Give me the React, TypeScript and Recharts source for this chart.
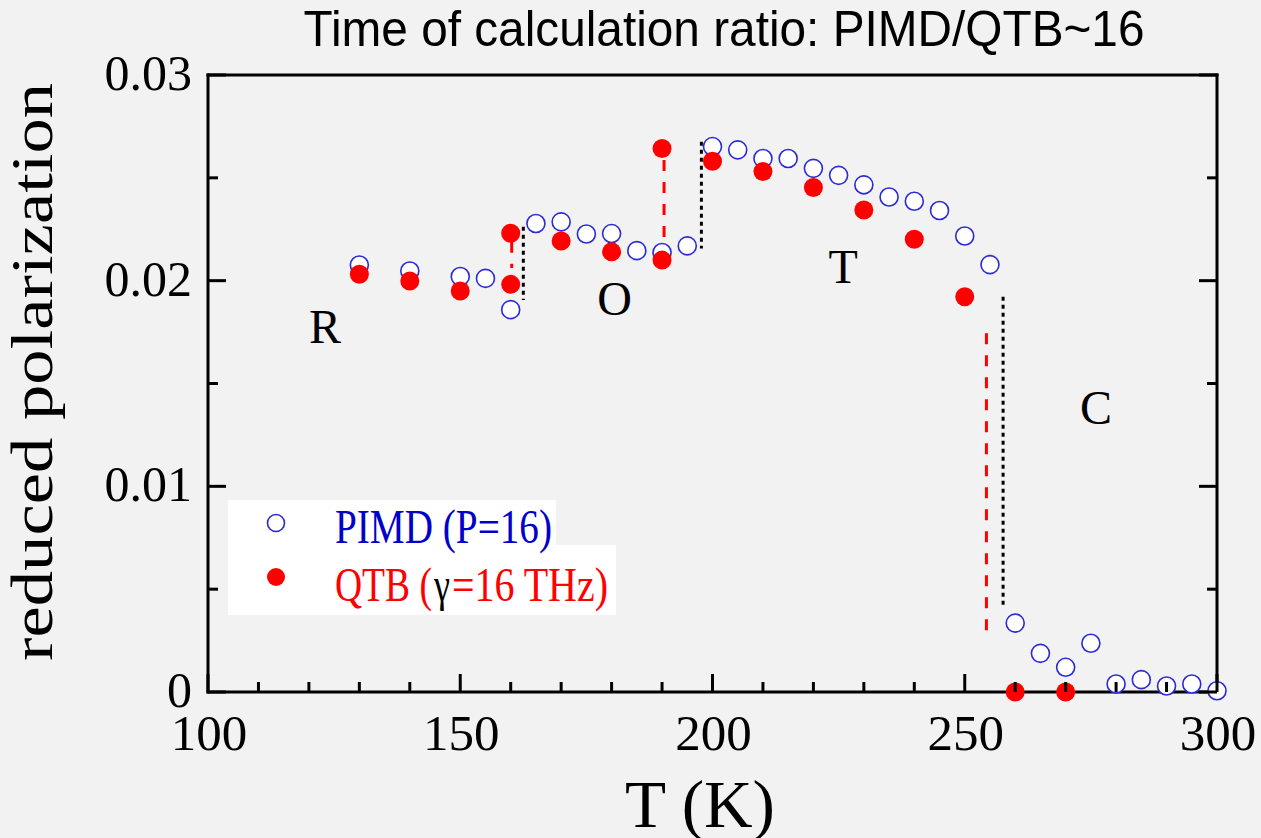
import React from "react";
import {
  ScatterChart,
  Scatter,
  XAxis,
  YAxis,
  ReferenceLine,
  ReferenceDot,
  Legend,
} from "recharts";

const SERIF = '"Liberation Serif", "Times New Roman", Times, serif';
const SANS = '"Liberation Sans", Arial, Helvetica, sans-serif';

const W = 1261;
const H = 838;
// axes take 1px each, so the plot area is 208..1217 x 75..692
const MARGIN = { top: 74, right: 43, bottom: 145, left: 207 };
const MAJOR = 18;
const MINOR = 10;

// PIMD (P=16), open circles
const pimdT = [
  130, 140, 150, 155, 160, 165, 170, 175, 180, 185, 190, 195, 200, 205, 210, 215, 220,
  225, 230, 235, 240, 245, 250, 255, 260, 265, 270, 275, 280, 285, 290, 295, 300,
];
const pimdP = [
  0.02076, 0.02047, 0.0202, 0.02011, 0.01859, 0.02278, 0.02286, 0.02227, 0.02229,
  0.02146, 0.02137, 0.02169, 0.02652, 0.02636, 0.02594, 0.02594, 0.02546, 0.02512,
  0.02466, 0.02407, 0.02386, 0.02341, 0.02217, 0.02078, 0.00335, 0.00188, 0.0012,
  0.00237, 0.00039, 0.0006, 0.00029, 0.00039, 0.00006,
];

// QTB (gamma=16 THz), filled circles
const qtbT = [130, 140, 150, 160, 160, 170, 180, 190, 190, 200, 210, 220, 230, 240, 250, 260, 270];
const qtbP = [
  0.02031, 0.01998, 0.0195, 0.02231, 0.01982, 0.02193, 0.0214, 0.02643, 0.021, 0.02581,
  0.02531, 0.02453, 0.02344, 0.02201, 0.01922, 0, 0,
];

// phase transition markers
const qtbJumps = [
  { t: 160.2, top: 0.02189, bottom: 0.02062 },
  { t: 190.4, top: 0.02587, bottom: 0.02198 },
  { t: 254.3, top: 0.01744, bottom: 0.00269 },
];
const pimdJumps = [
  { t: 162.5, top: 0.02262, bottom: 0.01906 },
  { t: 197.8, top: 0.02676, bottom: 0.02157 },
  { t: 257.6, top: 0.01922, bottom: 0.00418 },
];

const phases = [
  { name: "R", t: 123.2, p: 0.01775 },
  { name: "O", t: 180.6, p: 0.01913 },
  { name: "T", t: 225.9, p: 0.02066 },
  { name: "C", t: 276.0, p: 0.01381 },
];

const xTicks = [100, 110, 120, 130, 140, 150, 160, 170, 180, 190, 200, 210, 220, 230, 240, 250, 260, 270, 280, 290, 300];
const yTicks = [0, 0.005, 0.01, 0.015, 0.02, 0.025, 0.03];

const pimdData = pimdT.map((t, i) => ({ t, p: pimdP[i] }));
const qtbData = qtbT.map((t, i) => ({ t, p: qtbP[i] }));

const isMajorX = (v: number) => v % 50 === 0;
const isMajorY = (v: number) => Math.abs(v * 100 - Math.round(v * 100)) < 1e-6;
const fmtY = (v: number) => String(Math.round(v * 100) / 100);

const BottomTick = (props: any) => {
  const { x, y, payload } = props;
  const major = isMajorX(payload.value);
  return (
    <g>
      <line x1={x} x2={x} y1={y} y2={y - (major ? MAJOR : MINOR)} stroke="#000" strokeWidth={3} />
      {major && (
        <text x={x + 1} y={y + 58} textAnchor="middle" fontFamily={SERIF} fontSize={51} fill="#000">
          {payload.value}
        </text>
      )}
    </g>
  );
};

const TopTick = (props: any) => {
  const { x, y, payload } = props;
  const major = isMajorX(payload.value);
  return <line x1={x} x2={x} y1={y} y2={y + (major ? MAJOR : MINOR)} stroke="#000" strokeWidth={3} />;
};

const LeftTick = (props: any) => {
  const { x, y, payload } = props;
  const major = isMajorY(payload.value);
  return (
    <g>
      <line x1={x} x2={x + (major ? MAJOR : MINOR)} y1={y} y2={y} stroke="#000" strokeWidth={3} />
      {major && (
        <text x={x - 16} y={y + 15} textAnchor="end" fontFamily={SERIF} fontSize={50} fill="#000">
          {fmtY(payload.value)}
        </text>
      )}
    </g>
  );
};

const RightTick = (props: any) => {
  const { x, y, payload } = props;
  const major = isMajorY(payload.value);
  return <line x1={x} x2={x - (major ? MAJOR : MINOR)} y1={y} y2={y} stroke="#000" strokeWidth={3} />;
};

const OpenCircle = (p: any) => (
  <circle cx={p.cx} cy={p.cy} r={9} fill="#fff" stroke="#2a2ad6" strokeWidth={1.6} />
);
const FilledCircle = (p: any) => <circle cx={p.cx} cy={p.cy} r={9.5} fill="#ff0000" />;

const PhaseText = (name: string) => (p: any) => (
  <text x={p.cx} y={p.cy + 16} textAnchor="middle" fontFamily={SERIF} fontSize={48} fill="#000">
    {name}
  </text>
);

const TitleLabel = () => (
  <text x={724} y={46} textAnchor="middle" fontFamily={SANS} fontSize={50} textLength={841} lengthAdjust="spacingAndGlyphs" fill="#000">
    Time of calculation ratio: PIMD/QTB~16
  </text>
);

const XTitle = () => (
  <text x={700} y={827} textAnchor="middle" fontFamily={SERIF} fontSize={67} textLength={150} lengthAdjust="spacingAndGlyphs" fill="#000">
    T (K)
  </text>
);

const YTitle = () => (
  <text
    x={0}
    y={0}
    transform="translate(52, 372) rotate(-90)"
    textAnchor="middle"
    fontFamily={SERIF}
    fontSize={60}
    textLength={578}
    lengthAdjust="spacingAndGlyphs"
    fill="#000"
  >
    reduced polarization
  </text>
);

const LegendBox = () => (
  <svg width={400} height={120} style={{ display: "block", overflow: "visible" }}>
    <rect x={0} y={0} width={328} height={115} fill="#fff" />
    <rect x={0} y={45} width={388} height={70} fill="#fff" />
    <circle cx={48} cy={23} r={8.5} fill="#fff" stroke="#2a2ad6" strokeWidth={1.6} />
    <circle cx={48} cy={77} r={9} fill="#ff0000" />
    <text x={107} y={43} fontFamily={SERIF} fontSize={48} fill="#0000cc" textLength={217} lengthAdjust="spacingAndGlyphs">
      PIMD (P=16)
    </text>
    <text x={107} y={101} fontFamily={SERIF} fontSize={48} fill="#ff0000" textLength={97} lengthAdjust="spacingAndGlyphs">
      QTB (
    </text>
    <text x={206} y={101} fontFamily={SERIF} fontSize={48} fill="#000" textLength={16} lengthAdjust="spacingAndGlyphs">
      γ
    </text>
    <text x={224} y={101} fontFamily={SERIF} fontSize={48} fill="#ff0000" textLength={156} lengthAdjust="spacingAndGlyphs">
      =16 THz)
    </text>
  </svg>
);

const axisLineStyle = { stroke: "#000", strokeWidth: 3, strokeLinecap: "square" as const };

export default function App() {
  return (
    <div style={{ position: "absolute", left: 0, top: 0, width: W, height: H, background: "#f2f2f2" }}>
      <ScatterChart width={W} height={H} margin={MARGIN}>
        <XAxis
          xAxisId={0}
          type="number"
          dataKey="t"
          domain={[100, 300]}
          ticks={xTicks}
          interval={0}
          height={1}
          tickSize={0}
          tickMargin={0}
          tickLine={false}
          tick={(p: any) => <BottomTick {...p} />}
          axisLine={axisLineStyle}
          label={<XTitle />}
        />
        <XAxis
          xAxisId="top"
          orientation="top"
          type="number"
          domain={[100, 300]}
          allowDataOverflow
          ticks={xTicks}
          interval={0}
          height={1}
          tickSize={0}
          tickMargin={0}
          tickLine={false}
          tick={(p: any) => <TopTick {...p} />}
          axisLine={axisLineStyle}
          label={<TitleLabel />}
        />
        <YAxis
          yAxisId={0}
          type="number"
          dataKey="p"
          domain={[0, 0.03]}
          ticks={yTicks}
          interval={0}
          width={1}
          tickSize={0}
          tickMargin={0}
          tickLine={false}
          tick={(p: any) => <LeftTick {...p} />}
          axisLine={axisLineStyle}
          label={<YTitle />}
        />
        <YAxis
          yAxisId="right"
          orientation="right"
          type="number"
          domain={[0, 0.03]}
          allowDataOverflow
          ticks={yTicks}
          interval={0}
          width={1}
          tickSize={0}
          tickMargin={0}
          tickLine={false}
          tick={(p: any) => <RightTick {...p} />}
          axisLine={axisLineStyle}
        />
        {qtbJumps.map((j) => (
          <ReferenceLine
            key={`q${j.t}`}
            segment={[
              { x: j.t, y: j.top },
              { x: j.t, y: j.bottom },
            ]}
            stroke="#ff0000"
            strokeWidth={3}
            strokeDasharray="11 11"
          />
        ))}
        {pimdJumps.map((j) => (
          <ReferenceLine
            key={`p${j.t}`}
            segment={[
              { x: j.t, y: j.top },
              { x: j.t, y: j.bottom },
            ]}
            stroke="#000"
            strokeWidth={3}
            strokeDasharray="4 4"
          />
        ))}
        {phases.map((ph) => (
          <ReferenceDot key={ph.name} x={ph.t} y={ph.p} r={0} shape={PhaseText(ph.name)} />
        ))}
        <Scatter name="PIMD (P=16)" data={pimdData} shape={OpenCircle} isAnimationActive={false} />
        <Scatter name="QTB (γ=16 THz)" data={qtbData} shape={FilledCircle} isAnimationActive={false} />
        <Legend
          layout="vertical"
          align="center"
          verticalAlign="middle"
          content={() => <LegendBox />}
          wrapperStyle={{ left: 228, top: 500, width: 400, height: 120 }}
        />
      </ScatterChart>
    </div>
  );
}
